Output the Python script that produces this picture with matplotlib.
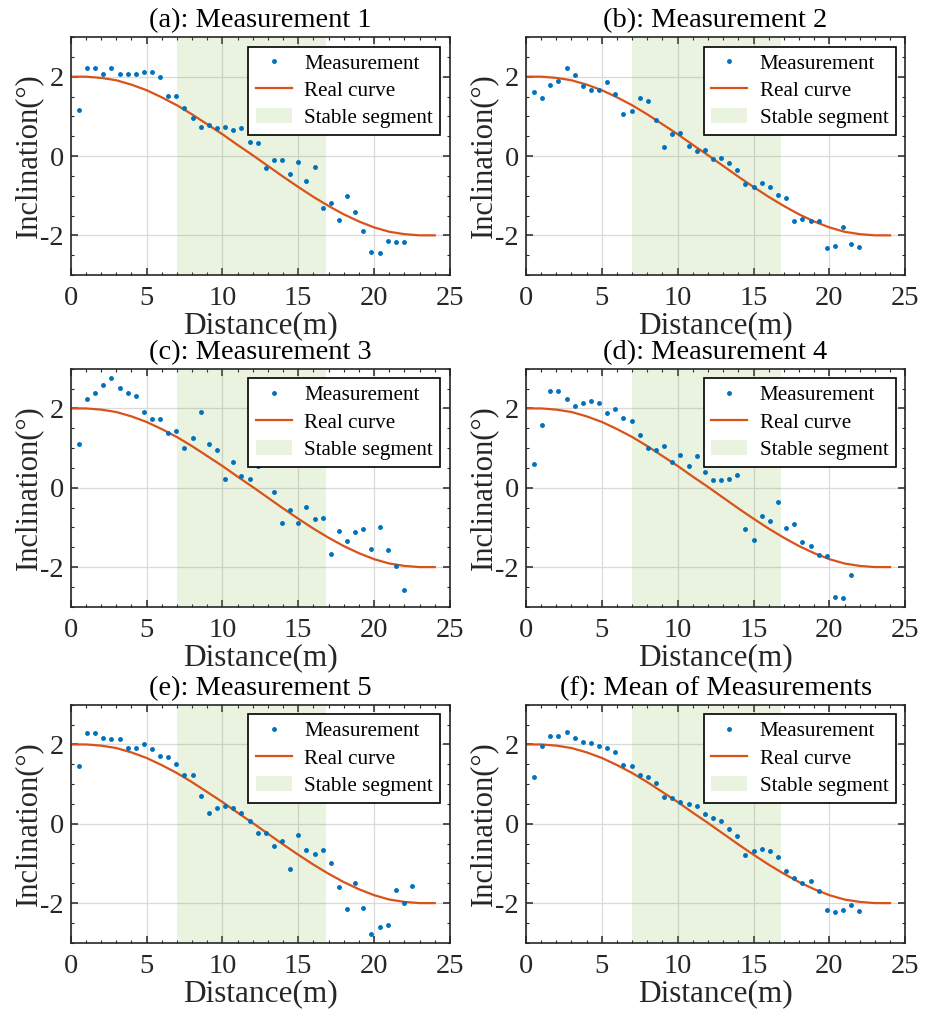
import numpy as np
import matplotlib
matplotlib.use("Agg")
import matplotlib.pyplot as plt
from matplotlib.lines import Line2D
from matplotlib.patches import Patch
from matplotlib.ticker import MultipleLocator

plt.rcParams['font.family'] = ['Liberation Serif', 'DejaVu Serif']
plt.rcParams['axes.unicode_minus'] = False

# ---------------------
# data
# ---------------------
distance = [0.54, 1.07, 1.61, 2.14, 2.68, 3.22, 3.75, 4.29, 4.82, 5.36,
            5.90, 6.43, 6.97, 7.50, 8.04, 8.58, 9.11, 9.65, 10.18, 10.72,
            11.26, 11.79, 12.33, 12.86, 13.40, 13.94, 14.47, 15.01, 15.54, 16.08,
            16.62, 17.15, 17.69, 18.22, 18.76, 19.30, 19.83, 20.37, 20.90, 21.44,
            21.98, 22.51]

curve_x = [0, 1, 2, 3, 4, 5, 6, 7, 8, 9, 10, 11, 12,
           13, 14, 15, 16, 17, 18, 19, 20, 21, 22, 23, 24]
curve_y = [2.00, 2.00, 1.97, 1.91, 1.80, 1.66, 1.48, 1.28, 1.05, 0.80, 0.55, 0.28, 0.02,
           -0.25, -0.52, -0.78, -1.03, -1.26, -1.47, -1.65, -1.80, -1.91, -1.97, -2.00, -2.00]

stable_start, stable_end = 7.0, 16.8

meas1 = [1.16, 2.23, 2.21, 2.07, 2.22, 2.08, 2.06, 2.07, 2.13, 2.11,
         2.00, 1.51, 1.52, 1.21, 0.96, 0.72, 0.77, 0.71, 0.74, 0.65,
         0.71, 0.36, 0.33, -0.29, -0.10, -0.10, -0.45, -0.14, -0.64, -0.27,
         -1.32, -1.19, -1.61, -1.00, -1.41, -1.90, -2.41, -2.45, -2.15, -2.18,
         -2.18]
meas2 = [1.61, 1.45, 1.78, 1.89, 2.21, 2.05, 1.77, 1.67, 1.67, 1.87,
         1.57, 1.06, 1.14, 1.45, 1.38, 0.91, 0.23, 0.56, 0.58, 0.26,
         0.12, 0.15, -0.08, -0.05, -0.17, -0.35, -0.71, -0.78, -0.68, -0.78,
         -0.98, -1.05, -1.64, -1.60, -1.65, -1.63, -2.33, -2.28, -1.79, -2.22,
         -2.30]
meas3 = [1.11, 2.25, 2.39, 2.59, 2.76, 2.51, 2.40, 2.31, 1.92, 1.74,
         1.74, 1.37, 1.43, 0.99, 1.26, 1.90, 1.11, 0.95, 0.21, 0.66,
         0.30, 0.23, 0.55, np.nan, -0.11, -0.90, -0.57, -0.88, -0.48, -0.80,
         -0.75, -1.68, -1.08, -1.33, -1.12, -1.04, -1.55, -1.00, -1.58, -1.98,
         -2.59]
meas4 = [0.61, 1.57, 2.43, 2.43, 2.25, 2.05, 2.13, 2.19, 2.13, 1.88,
         1.98, 1.75, 1.68, 1.34, 1.01, 0.95, 1.06, 0.64, 0.83, 0.55,
         0.79, 0.40, 0.19, 0.19, 0.22, 0.31, -1.04, -1.32, -0.70, -0.83,
         -0.37, -1.01, -0.92, -1.37, -1.48, -1.70, -1.72, -2.76, -2.77, -2.20]
meas5 = [1.45, 2.30, 2.28, 2.15, 2.13, 2.13, 1.92, 1.92, 2.00, 1.88,
         1.71, 1.69, 1.50, 1.22, 1.22, 0.69, 0.28, 0.39, 0.46, 0.41,
         0.28, 0.06, -0.23, -0.24, -0.55, -0.44, -1.15, -0.29, -0.65, -0.75,
         -0.67, -0.98, -1.59, -2.16, -1.50, -2.12, -2.78, -2.61, -2.55, -1.68,
         -1.99, -1.56]
mean_meas = [1.18, 1.96, 2.22, 2.22, 2.32, 2.17, 2.06, 2.03, 1.97, 1.90,
             1.81, 1.48, 1.46, 1.24, 1.18, 1.03, 0.68, 0.65, 0.56, 0.50,
             0.44, 0.25, 0.15, 0.07, -0.14, -0.30, -0.79, -0.69, -0.64, -0.69,
             -0.83, -1.18, -1.37, -1.50, -1.45, -1.70, -2.17, -2.23, -2.18, -2.06,
             -2.21]

titles = ["(a): Measurement 1", "(b): Measurement 2", "(c): Measurement 3",
          "(d): Measurement 4", "(e): Measurement 5", "(f): Mean of Measurements"]
series = [meas1, meas2, meas3, meas4, meas5, mean_meas]

# ---------------------
# figure
# ---------------------
blue = '#0072BD'
orange = '#D95319'
green = (0.466, 0.674, 0.188)
dark = '#262626'

fig = plt.figure(figsize=(9.25, 10.17), dpi=100)
lefts = [0.0764, 0.5686]
bottoms = [0.7296, 0.4034, 0.0730]
w, h = 0.410, 0.234

for i, (title, meas) in enumerate(zip(titles, series)):
    ax = fig.add_axes([lefts[i % 2], bottoms[i // 2], w, h])
    ax.grid(which='major', color='#DADADA', lw=0.9, zorder=0)
    ax.set_axisbelow(True)
    ax.axvspan(stable_start, stable_end, color=green, alpha=0.15, lw=0, zorder=1)
    ax.plot(curve_x, curve_y, color=orange, lw=1.6, zorder=2)
    ax.plot(distance[:len(meas)], meas, '.', color=blue, ms=5, zorder=3)

    ax.set_xlim(0, 25)
    ax.set_ylim(-3, 3)
    ax.xaxis.set_major_locator(MultipleLocator(5))
    ax.xaxis.set_minor_locator(MultipleLocator(1))
    ax.yaxis.set_major_locator(MultipleLocator(2))
    ax.yaxis.set_minor_locator(MultipleLocator(0.5))
    ax.tick_params(which='both', direction='in', top=True, right=True,
                   colors=dark, labelsize=20.5)
    ax.tick_params(which='major', length=5, width=1.1)
    ax.tick_params(which='minor', length=2.5, width=0.8)
    ax.tick_params(axis='x', pad=8)
    ax.tick_params(axis='y', pad=5)
    for sp in ax.spines.values():
        sp.set_color(dark)
        sp.set_linewidth(1.2)

    ax.set_title(title, fontsize=20.5, pad=7)
    ax.set_xlabel('Distance(m)', fontsize=22.5, labelpad=0, color=dark)
    ax.set_ylabel('Inclination(°)', fontsize=22, labelpad=-2, color=dark)

    handles = [Line2D([], [], ls='none', marker='.', ms=5, color=blue),
               Line2D([], [], color=orange, lw=1.6),
               Patch(facecolor=green, alpha=0.15, lw=0)]
    leg = ax.legend(handles, ['Measurement', 'Real curve', 'Stable segment'],
                    loc='upper right', fontsize=15.2, fancybox=False, framealpha=1,
                    edgecolor='black', handlelength=1.7, handletextpad=0.6,
                    labelspacing=0.35, borderpad=0.35, borderaxespad=0.45)
    leg.get_frame().set_linewidth(1.2)

fig.savefig('out.png', dpi=100)
